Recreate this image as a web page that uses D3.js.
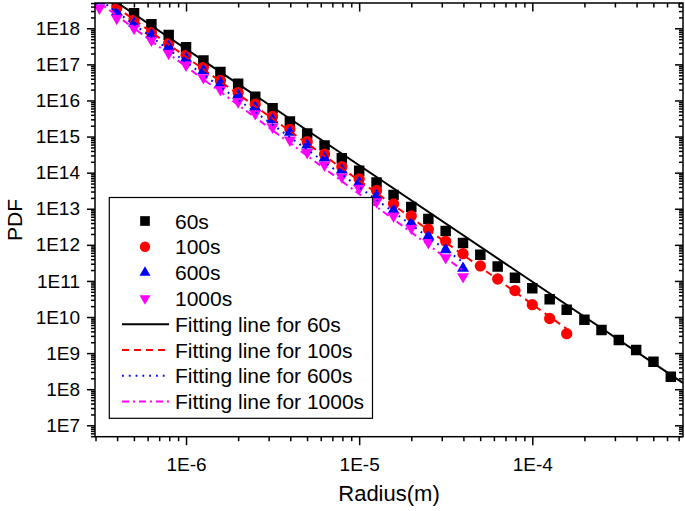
<!DOCTYPE html>
<html>
<head>
<meta charset="utf-8">
<script src="https://cdn.jsdelivr.net/npm/d3@7/dist/d3.min.js"></script>
<style>
  html, body { margin: 0; padding: 0; background: #fff; }
  svg { display: block; }
  text { font-family: "Liberation Sans", Arial, sans-serif; fill: #000; }
</style>
</head>
<body>
<svg id="chart" width="685" height="511"></svg>
<script>
// ---------------- data ----------------
const radius = [3.16e-7, 3.98e-7, 5.01e-7, 6.31e-7, 7.94e-7, 1.00e-6, 1.26e-6, 1.58e-6, 2.00e-6, 2.51e-6,
                3.16e-6, 3.98e-6, 5.01e-6, 6.31e-6, 7.94e-6, 1.00e-5, 1.26e-5, 1.58e-5, 2.00e-5, 2.51e-5,
                3.16e-5, 3.98e-5, 5.01e-5, 6.31e-5, 7.94e-5, 1.00e-4, 1.26e-4, 1.58e-4, 2.00e-4, 2.51e-4,
                3.16e-4, 3.98e-4, 5.01e-4, 6.31e-4];
const pdf60s = [null, 5.5e18, 2.6e18, 1.3e18, 6.5e17, 3.0e17, 1.28e17, 6.2e16, 2.9e16, 1.27e16,
                6.1e15, 2.6e15, 1.22e15, 5.7e14, 2.5e14, 1.13e14, 5.3e13, 2.4e13, 1.12e13, 5.2e12,
                2.4e12, 1.12e12, 5.3e11, 2.5e11, 1.23e11, 6.25e10, 3.1e10, 1.6e10, 8.4e9, 4.4e9,
                2.3e9, 1.22e9, 5.8e8, 2.2e8];
const pdf100s = [null, 3.6e18, 1.7e18, 7.7e17, 3.8e17, 1.8e17, 8.3e16, 3.6e16, 1.66e16, 7.9e15,
                 3.6e15, 1.59e15, 7.2e14, 3.25e14, 1.46e14, 6.7e13, 3.2e13, 1.36e13, 6.3e12, 2.7e12,
                 1.25e12, 5.7e11, 2.6e11, 1.13e11, 5.4e10, 2.2e10, 9.1e9, 3.45e9];
const pdf600s = [5.7e18, 2.8e18, 1.38e18, 6.7e17, 3.1e17, 1.48e17, 6.7e16, 3.0e16, 1.39e16, 6.4e15,
                 2.9e15, 1.31e15, 5.8e14, 2.55e14, 1.19e14, 5.4e13, 2.3e13, 9.2e12, 4.1e12, 1.76e12,
                 7.3e11, 2.24e11];
const pdf1000s = [3.6e18, 1.9e18, 1.0e18, 4.7e17, 2.03e17, 9.6e16, 4.3e16, 2.0e16, 9.2e15, 4.3e15,
                  1.84e15, 8.0e14, 3.6e14, 1.63e14, 7.6e13, 3.7e13, 1.57e13, 6.3e12, 2.9e12, 1.16e12,
                  4.4e11, 1.31e11];
// fitted power-law lines: end points [radius, pdf]
const fit60s   = [[3.0e-7, 1.3e19], [7.4e-4, 1.5e8]];
const fit100s  = [[3.0e-7, 1.0e19], [1.58e-4, 4.7e9]];
const fit600s  = [[3.0e-7, 7.5e18], [3.98e-5, 3.3e11]];
const fit1000s = [[3.0e-7, 6.1e18], [3.98e-5, 1.95e11]];

const xTickValues = [1e-6, 1e-5, 1e-4];
const xTickLabels = ["1E-6", "1E-5", "1E-4"];
const yTickValues = [1e7, 1e8, 1e9, 1e10, 1e11, 1e12, 1e13, 1e14, 1e15, 1e16, 1e17, 1e18];
const yTickLabels = ["1E7", "1E8", "1E9", "1E10", "1E11", "1E12", "1E13", "1E14", "1E15", "1E16", "1E17", "1E18"];
const legendLabels = ["60s", "100s", "600s", "1000s",
  "Fitting line for 60s", "Fitting line for 100s", "Fitting line for 600s", "Fitting line for 1000s"];

// ---------------- layout ----------------
const L = 95, R = 683, T = 3, B = 436.7;
const svg = d3.select("#chart");
const x = d3.scaleLog().domain([2.98e-7, 7.42e-4]).range([L, R]);
const y = d3.scaleLog().domain([4.83e6, 5.02e18]).range([B, T]);

function minors(lo, hi) {
  const out = [];
  for (let e = lo; e <= hi; e++) for (let m = 2; m <= 9; m++) out.push(m * Math.pow(10, e));
  return out;
}
const xMinor = minors(-7, -3).filter(v => v > x.domain()[0] && v < x.domain()[1]);
const yMinor = minors(6, 18).filter(v => v > y.domain()[0] && v < y.domain()[1]);

function styleAxis(g) {
  g.select(".domain").remove();
  g.selectAll(".tick line").attr("stroke", "#000").attr("stroke-width", 1.5);
}
const fmtX = d => xTickLabels[xTickValues.indexOf(d)];
const fmtY = d => yTickLabels[yTickValues.indexOf(d)];

// bottom
svg.append("g").attr("transform", `translate(0,${B})`)
  .call(d3.axisBottom(x).tickValues(xMinor).tickSize(4.5).tickFormat("")).call(styleAxis);
svg.append("g").attr("transform", `translate(0,${B})`)
  .call(d3.axisBottom(x).tickValues(xTickValues).tickSize(8.5).tickPadding(12).tickFormat(fmtX))
  .call(styleAxis).selectAll("text").attr("font-size", 19);
// top (inward)
svg.append("g").attr("transform", `translate(0,${T})`)
  .call(d3.axisTop(x).tickValues(xMinor).tickSize(-4.5).tickFormat("")).call(styleAxis);
svg.append("g").attr("transform", `translate(0,${T})`)
  .call(d3.axisTop(x).tickValues(xTickValues).tickSize(-8.5).tickFormat("")).call(styleAxis);
// left
svg.append("g").attr("transform", `translate(${L},0)`)
  .call(d3.axisLeft(y).tickValues(yMinor).tickSize(4).tickFormat("")).call(styleAxis);
svg.append("g").attr("transform", `translate(${L},0)`)
  .call(d3.axisLeft(y).tickValues(yTickValues).tickSize(8).tickPadding(7).tickFormat(fmtY))
  .call(styleAxis).selectAll("text").attr("font-size", 19);
// right (inward)
svg.append("g").attr("transform", `translate(${R},0)`)
  .call(d3.axisRight(y).tickValues(yMinor).tickSize(-4).tickFormat("")).call(styleAxis);
svg.append("g").attr("transform", `translate(${R},0)`)
  .call(d3.axisRight(y).tickValues(yTickValues).tickSize(-8).tickFormat("")).call(styleAxis);

// clip
svg.append("defs").append("clipPath").attr("id", "plotclip")
  .append("rect").attr("x", L).attr("y", T).attr("width", R - L).attr("height", B - T);
const plot = svg.append("g").attr("clip-path", "url(#plotclip)");

// series definitions
const series = [
  { values: pdf60s,   color: "#000000", sym: d3.symbolSquare,   size: 110, rot: 0 },
  { values: pdf100s,  color: "#ff0000", sym: d3.symbolCircle,   size: 100, rot: 0 },
  { values: pdf600s,  color: "#0000ff", sym: d3.symbolTriangle, size: 62,  rot: 0 },
  { values: pdf1000s, color: "#ff00ff", sym: d3.symbolTriangle, size: 62,  rot: 180 }
];
const fits = [
  { pts: fit60s,   color: "#000000", dash: null,        width: 2 },
  { pts: fit100s,  color: "#ff0000", dash: "7,5",       width: 2 },
  { pts: fit600s,  color: "#0000ff", dash: "1.8,5",     width: 2 },
  { pts: fit1000s, color: "#ff00ff", dash: "7,4,2,4",   width: 2 }
];

series.forEach(s => {
  const pts = s.values.map((v, i) => [radius[i], v]).filter(p => p[1] != null);
  plot.append("g").selectAll("path").data(pts).enter().append("path")
    .attr("d", d3.symbol().type(s.sym).size(s.size))
    .attr("transform", p => `translate(${x(p[0])},${y(p[1])}) rotate(${s.rot})`)
    .attr("fill", s.color);
});

const line = d3.line().x(p => x(p[0])).y(p => y(p[1]));
fits.forEach(f => {
  plot.append("path").attr("d", line(f.pts)).attr("fill", "none")
    .attr("stroke", f.color).attr("stroke-width", f.width)
    .attr("stroke-dasharray", f.dash);
});

// frame
svg.append("rect").attr("x", L).attr("y", T).attr("width", R - L).attr("height", B - T)
  .attr("fill", "none").attr("stroke", "#000").attr("stroke-width", 1.5);

// axis titles
svg.append("text").attr("x", 389).attr("y", 501).attr("text-anchor", "middle")
  .attr("font-size", 22).text("Radius(m)");
svg.append("text").attr("transform", "translate(22,220) rotate(-90)").attr("text-anchor", "middle")
  .attr("font-size", 21).text("PDF");

// legend
const lg = svg.append("g");
lg.append("rect").attr("x", 109.3).attr("y", 197.5).attr("width", 263.2).attr("height", 220.8)
  .attr("fill", "#fff").attr("stroke", "#000").attr("stroke-width", 1.2);
const rowY0 = 221, rowDY = 25.8;
legendLabels.forEach((lab, i) => {
  const cy = rowY0 + i * rowDY;
  if (i < 4) {
    const s = series[i];
    lg.append("path").attr("d", d3.symbol().type(s.sym).size(s.size * 0.85))
      .attr("transform", `translate(145,${cy}) rotate(${s.rot})`).attr("fill", s.color);
  } else {
    const f = fits[i - 4];
    lg.append("line").attr("x1", 122).attr("x2", 169).attr("y1", cy).attr("y2", cy)
      .attr("stroke", f.color).attr("stroke-width", f.width).attr("stroke-dasharray", f.dash);
  }
  lg.append("text").attr("x", 175).attr("y", cy + 7.5).attr("font-size", 21).text(lab);
});
</script>
</body>
</html>
